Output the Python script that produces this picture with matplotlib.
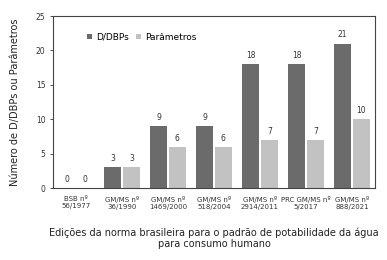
import matplotlib
matplotlib.use("Agg")
import matplotlib.pyplot as plt
import numpy as np

categories = ["BSB nº\n56/1977", "GM/MS nº\n36/1990", "GM/MS nº\n1469/2000", "GM/MS nº\n518/2004",
              "GM/MS nº\n2914/2011", "PRC GM/MS nº\n5/2017", "GM/MS nº\n888/2021"]
dbps = [0, 3, 9, 9, 18, 18, 21]
params = [0, 3, 6, 6, 7, 7, 10]
series_names = ["D/DBPs", "Parâmetros"]

plt.rcParams['font.family'] = ['DejaVu Sans']
fig = plt.figure(figsize=(3.87, 2.6), dpi=100)
ax = fig.add_axes([53/387, 1-188/260, (375-53)/387, (188-16)/260])

x = np.arange(len(categories))
w = 0.36
g = 0.025
c1, c2 = "#6b6b6b", "#c2c2c2"
b1 = ax.bar(x - w/2 - g, dbps, w, color=c1, label=series_names[0])
b2 = ax.bar(x + w/2 + g, params, w, color=c2, label=series_names[1])
for bars, vals in ((b1, dbps), (b2, params)):
    for rect, v in zip(bars, vals):
        ax.text(rect.get_x() + rect.get_width()/2, v + 0.6, str(v), ha="center", va="bottom",
                fontsize=5.5, color="#333333")

ax.set_xlim(-0.5, len(categories) - 0.5)
ax.set_ylim(0, 25)
ax.set_yticks([0, 5, 10, 15, 20, 25])
ax.set_xticks(x)
ax.set_xticklabels(categories, fontsize=5)
ax.tick_params(axis="y", labelsize=5.5, length=2, width=0.6, colors="#333333")
ax.tick_params(axis="x", length=0, pad=6, colors="#333333")
for s in ax.spines.values():
    s.set_linewidth(0.8)
    s.set_color("#444444")
ax.set_ylabel("Número de D/DBPs ou Parâmetros", fontsize=7, color="#222222", labelpad=11)
ax.set_xlabel("Edições da norma brasileira para o padrão de potabilidade da água\npara consumo humano",
              fontsize=7, color="#222222", labelpad=12)
ax.legend(loc="upper left", bbox_to_anchor=(0.08, 0.95), ncol=2, frameon=False, fontsize=6.5,
          handlelength=0.6, handleheight=0.6, handletextpad=0.4, columnspacing=0.8)

fig.savefig("out.png", dpi=100)
